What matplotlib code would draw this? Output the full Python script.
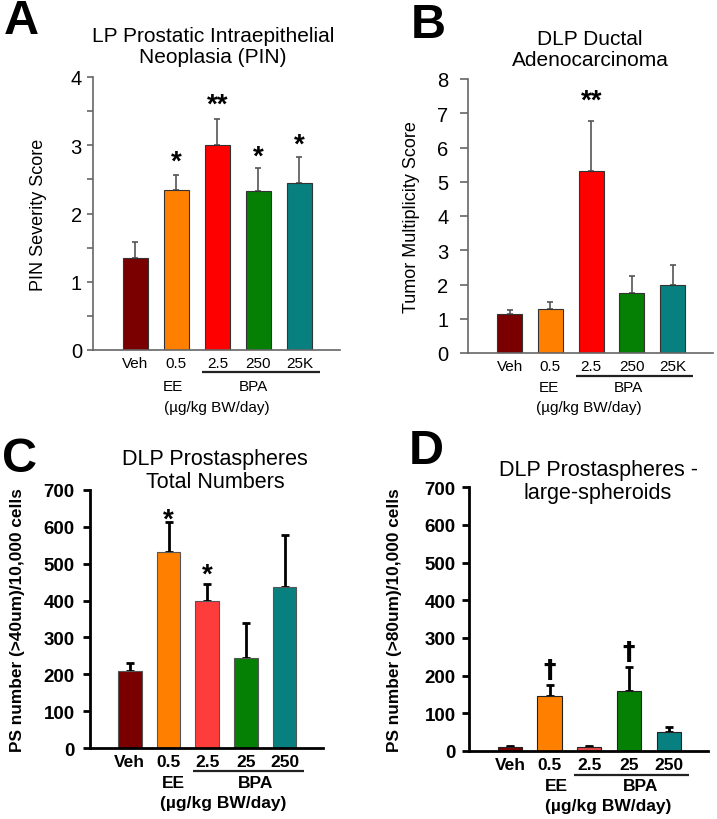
import matplotlib
matplotlib.use("Agg")
import matplotlib.pyplot as plt
import matplotlib.transforms as mtransforms

plt.rcParams['font.family'] = ['Liberation Sans', 'DejaVu Sans']

# ---------------- data ----------------
groups_ab = ["Veh", "0.5", "2.5", "250", "25K"]
groups_cd = ["Veh", "0.5", "2.5", "25", "250"]

pin_mean = [1.35, 2.35, 3.00, 2.33, 2.45]
pin_err = [0.23, 0.22, 0.38, 0.34, 0.38]
pin_sig = ["", "*", "**", "*", "*"]

tumor_mean = [1.13, 1.28, 5.32, 1.75, 1.99]
tumor_err = [0.12, 0.20, 1.45, 0.49, 0.59]
tumor_sig = ["", "", "**", "", ""]

ps_total_mean = [209, 532, 400, 244, 437]
ps_total_err = [21, 81, 44, 95, 141]
ps_total_sig = ["", "*", "*", "", ""]

ps_large_mean = [10, 147, 11, 160, 51]
ps_large_err = [3, 28, 3, 64, 12]
ps_large_sig = ["", "\u2020", "", "\u2020", ""]

colors_ab = ["#7a0000", "#ff8000", "#ff0000", "#058005", "#088080"]
colors_c = ["#7a0000", "#ff8000", "#ff3c3c", "#058005", "#088080"]
colors_d = ["#7a0000", "#ff8000", "#e44848", "#058005", "#088080"]

FW, FH = 717, 820
fig = plt.figure(figsize=(FW / 100, FH / 100), dpi=100)


def axes_px(x0, y0, x1, y1):
    return fig.add_axes([x0 / FW, 1 - y1 / FH, (x1 - x0) / FW, (y1 - y0) / FH])


def panel(ax, h_px, labels, means, errs, sigs, colors, ylim, yticks, minor,
          ylabel, title, title_xy, bold, ax_col, lw_sp, err_col, err_lw, cap,
          sig_size, sig_off, sig_extra, offs, pos, tick_pad, tick_len,
          ylabel_x, title_fs, tick_fs, xt_fs, edge, sig_family=None):
    x = list(range(len(means)))
    ax.bar(x, means, width=0.61, color=colors, edgecolor=edge, linewidth=0.8,
           zorder=2)
    ax.errorbar(x, means, yerr=[[0] * len(errs), errs], fmt="none",
                ecolor=err_col, elinewidth=err_lw, capsize=cap,
                capthick=err_lw, zorder=1)
    ax.set_xlim(-1.03, 4.99)
    ax.set_ylim(*ylim)
    ax.set_yticks(yticks)
    if minor:
        ax.set_yticks(minor, minor=True)
    fw = "bold" if bold else "normal"
    ax.set_yticklabels([str(t) for t in yticks], fontsize=tick_fs,
                       fontweight=fw)
    ax.tick_params(axis="y", which="both", direction="out", length=tick_len,
                   width=lw_sp, color=ax_col, pad=tick_pad)
    ax.set_xticks([])
    for s in ["top", "right"]:
        ax.spines[s].set_visible(False)
    for s in ["left", "bottom"]:
        ax.spines[s].set_color(ax_col)
        ax.spines[s].set_linewidth(lw_sp)
    ax.set_ylabel(ylabel, fontsize=13 if not bold else 12.4, fontweight=fw)
    ax.yaxis.set_label_coords(ylabel_x, 0.5)
    ax.text(title_xy[0], title_xy[1], title, transform=ax.transAxes,
            ha="center", va="center", fontsize=title_fs, linespacing=1.12)
    tr = mtransforms.blended_transform_factory(ax.transData, ax.transAxes)
    d_tick, d_line, d_ee, d_unit = offs
    for xi, lab in zip(x, labels):
        ax.text(xi, -d_tick / h_px, lab, transform=tr, ha="center",
                va="center", fontsize=xt_fs, fontweight=fw)
    ax.plot([1.62, 4.5], [-d_line / h_px] * 2, transform=tr, color="#222222",
            lw=1.6, clip_on=False, solid_capstyle="butt")
    ax.text(pos[0], -d_ee / h_px, "EE", transform=tr, ha="center",
            va="center", fontsize=xt_fs, fontweight=fw)
    ax.text(pos[1], -d_ee / h_px, "BPA", transform=tr, ha="center",
            va="center", fontsize=xt_fs, fontweight=fw)
    ax.text(pos[2], -d_unit / h_px, "(\u00b5g/kg BW/day)", transform=tr,
            ha="center", va="center", fontsize=xt_fs, fontweight=fw)
    for xi, m, e, s, ex in zip(x, means, errs, sigs, sig_extra):
        if s:
            kw = {}
            if sig_family:
                kw["family"] = sig_family
            ax.annotate(s, (xi, m + e), xytext=(0, sig_off + ex),
                        textcoords="offset pixels", ha="center",
                        va="baseline", fontsize=sig_size, fontweight="bold",
                        **kw)


# Panel A
axA = axes_px(93, 78, 340, 351)
panel(axA, 273, groups_ab, pin_mean, pin_err, pin_sig, colors_ab,
      (0, 4), [0, 1, 2, 3, 4], [0.5, 1.5, 2.5, 3.5],
      "PIN Severity Score", "LP Prostatic Intraepithelial\nNeoplasia (PIN)",
      (0.486, 1.115), False, "#666666", 1.2, "#555555", 1.2, 2.2,
      20, 6, [0, 0, 2, -2, -1], (13, 22, 36, 57), (0.91, 2.87, 1.99),
      4, 4, -0.186, 15, 14.5, 11, "#333333")

# Panel B
axB = axes_px(467.7, 80, 713, 354)
panel(axB, 274, groups_ab, tumor_mean, tumor_err, tumor_sig, colors_ab,
      (0, 8), list(range(9)), None,
      "Tumor Multiplicity Score", "DLP Ductal\nAdenocarcinoma",
      (0.4986, 1.109), False, "#666666", 1.2, "#555555", 1.2, 2.5,
      20, 14, [0] * 5, (13, 23, 34, 54), (0.95, 2.91, 1.93),
      8, 6, -0.194, 15, 14.5, 11, "#333333")

# Panel C
axC = axes_px(90, 490.7, 323, 749.3)
panel(axC, 258.6, groups_cd, ps_total_mean, ps_total_err, ps_total_sig,
      colors_c, (0, 700), list(range(0, 701, 100)), None,
      "PS number (>40um)/10,000 cells", "DLP Prostaspheres\nTotal Numbers",
      (0.536, 1.076), True, "#000000", 2.0, "#000000", 2.0, 3,
      20, -5, [0, 0, 8, 0, 0], (13, 23, 34, 54), (1.13, 3.24, 2.42),
      6, 5, -0.279, 15.5, 13.5, 12.5, "#555555")

# Panel D
axD = axes_px(469, 488.3, 708, 752)
panel(axD, 263.7, groups_cd, ps_large_mean, ps_large_err, ps_large_sig,
      colors_d, (0, 700), list(range(0, 701, 100)), None,
      "PS number (>80um)/10,000 cells", "DLP Prostaspheres -\nlarge-spheroids",
      (0.54, 1.024), True, "#000000", 2.0, "#000000", 2.0, 2.7,
      18, 9, [0, 0, 0, 0, 0], (14, 24, 35, 55), (1.17, 3.3, 2.47),
      4.5, 5, -0.28, 15.5, 13.5, 12.5, "#222222", sig_family="DejaVu Sans")

# Panel letters
for letter, (px, py) in zip("ABCD", [(21.5, 21.5), (428, 26), (20, 459),
                                     (426, 451)]):
    fig.text(px / FW, 1 - py / FH, letter, ha="center", va="center",
             fontsize=35, fontweight="bold")

fig.savefig("out.png", dpi=100)
